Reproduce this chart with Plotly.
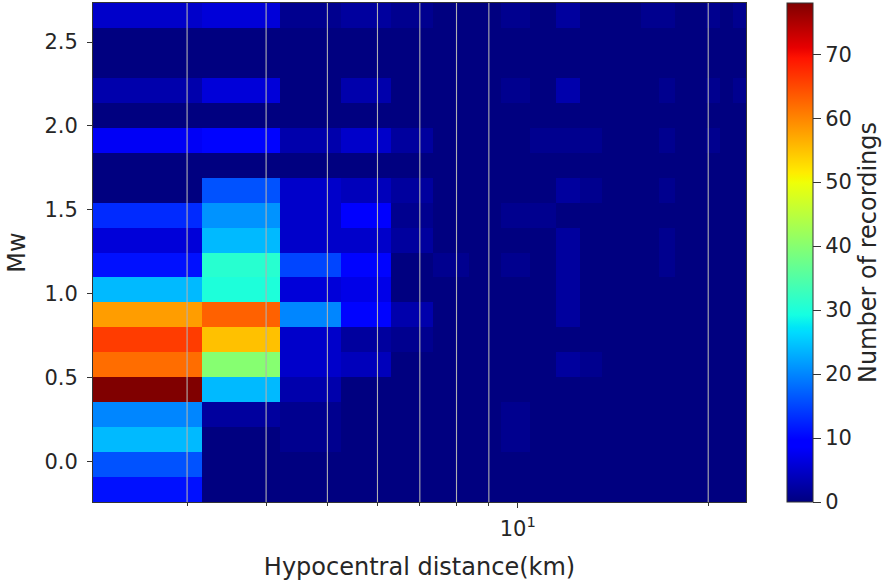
import numpy as np
import plotly.graph_objects as go

# ---- data -------------------------------------------------------------
# histogram bin edges (20 linear bins in each direction)
dist_min, dist_max = 2.13, 22.95
mw_min, mw_max = -0.241, 2.733
n_bins = 20

# counts per Mw row (bottom row first), 20 distance bins each
counts = [
    [11, 0, 0, 0, 0, 0, 0, 0, 0, 0, 0, 0, 0, 0, 0, 0, 0, 0, 0, 0],
    [16, 0, 0, 0, 0, 0, 0, 0, 0, 0, 0, 0, 0, 0, 0, 0, 0, 0, 0, 0],
    [24, 0, 1, 0, 0, 0, 0, 1, 0, 0, 0, 0, 0, 0, 0, 0, 0, 0, 0, 0],
    [20, 2, 1, 0, 0, 0, 0, 1, 0, 0, 0, 0, 0, 0, 0, 0, 0, 0, 0, 0],
    [78, 24, 3, 0, 0, 0, 0, 0, 0, 0, 0, 0, 0, 0, 0, 0, 0, 0, 0, 0],
    [62, 40, 5, 4, 0, 0, 0, 0, 0, 2, 1, 0, 0, 0, 0, 0, 0, 0, 0, 0],
    [66, 55, 5, 2, 1, 0, 0, 0, 0, 0, 0, 0, 0, 0, 0, 0, 0, 0, 0, 0],
    [58, 63, 20, 10, 3, 0, 0, 0, 0, 2, 0, 0, 0, 0, 0, 0, 0, 0, 0, 0],
    [24, 30, 6, 7, 0, 0, 0, 0, 0, 2, 0, 0, 0, 0, 0, 0, 0, 0, 0, 0],
    [11, 31, 15, 10, 0, 1, 0, 1, 0, 2, 0, 0, 0, 0, 1, 0, 0, 0, 0, 0],
    [6, 24, 5, 5, 2, 0, 0, 0, 0, 2, 0, 0, 0, 0, 1, 0, 0, 0, 0, 0],
    [13, 21, 5, 9, 1, 0, 0, 1, 1, 0, 0, 0, 0, 0, 0, 0, 0, 0, 0, 0],
    [0, 16, 5, 4, 2, 0, 0, 0, 0, 2, 1, 0, 0, 0, 1, 0, 0, 0, 0, 0],
    [0, 0, 0, 0, 0, 0, 0, 0, 0, 0, 0, 0, 0, 0, 0, 0, 0, 0, 0, 0],
    [8, 10, 3, 5, 2, 0, 0, 0, 1, 1, 1, 0, 0, 0, 1, 0, 0, 1, 0, 0],
    [0, 0, 0, 0, 0, 0, 0, 0, 0, 0, 0, 0, 0, 0, 0, 0, 0, 0, 0, 0],
    [3, 6, 0, 3, 0, 0, 0, 1, 0, 3, 0, 0, 0, 0, 1, 0, 0, 1, 0, 1],
    [0, 0, 0, 0, 0, 0, 0, 0, 0, 0, 0, 0, 0, 0, 0, 0, 0, 0, 0, 0],
    [0, 0, 0, 0, 0, 0, 0, 0, 0, 0, 0, 0, 0, 0, 0, 0, 0, 0, 0, 0],
    [5, 6, 1, 2, 1, 0, 0, 1, 0, 2, 0, 0, 0, 1, 1, 0, 0, 1, 0, 1],
]

y_ticks = [0.0, 0.5, 1.0, 1.5, 2.0, 2.5]
x_major_ticks = [10]
x_major_text = ["10<sup>1</sup>"]
x_minor_ticks = [3, 4, 5, 6, 7, 8, 9, 20]
cbar_ticks = [0, 10, 20, 30, 40, 50, 60, 70]

x_edges = np.linspace(dist_min, dist_max, n_bins + 1)
y_edges = np.linspace(mw_min, mw_max, n_bins + 1)
z = np.array(counts)

# ---- matplotlib "jet" colormap ---------------------------------------
red = [(0, 0), (0.35, 0), (0.66, 1), (0.89, 1), (1, 0.5)]
green = [(0, 0), (0.125, 0), (0.375, 1), (0.64, 1), (0.91, 0), (1, 0)]
blue = [(0, 0.5), (0.11, 1), (0.34, 1), (0.65, 0), (1, 0)]
stops = sorted({p for seg in (red, green, blue) for p, _ in seg})


def interp(seg, t):
    xs = [p for p, _ in seg]
    vs = [v for _, v in seg]
    return float(np.interp(t, xs, vs))


jet = [[t, "rgb(%d,%d,%d)" % (round(255 * interp(red, t)),
                               round(255 * interp(green, t)),
                               round(255 * interp(blue, t)))] for t in stops]

FONT = "DejaVu Sans"
TICK_SIZE = 21
LABEL_SIZE = 24
TXT = "#262626"
AX = "#333"

fig = go.Figure(go.Heatmap(
    x=x_edges, y=y_edges, z=z,
    colorscale=jet, zmin=0, zmax=int(z.max()),
    colorbar=dict(
        title=dict(text="Number of recordings", side="right",
                   font=dict(family=FONT, size=LABEL_SIZE, color=TXT)),
        thickness=26, len=1, lenmode="fraction", y=0.5, yanchor="middle",
        x=1.0628, xanchor="left", xpad=0, ypad=0,
        outlinewidth=1, outlinecolor=AX,
        tickvals=cbar_ticks, ticks="outside", ticklen=8, tickwidth=1,
        tickcolor=AX,
        tickfont=dict(family=FONT, size=TICK_SIZE, color=TXT),
    ),
    hoverinfo="skip",
))

shapes = [dict(type="line", xref="x", yref="paper", x0=v, x1=v, y0=0, y1=1,
               line=dict(color="#b0b0b0", width=1.1), layer="above")
          for v in x_minor_ticks]

fig.update_layout(
    width=891, height=584,
    margin=dict(l=93, r=145, t=3, b=82),
    paper_bgcolor="white", plot_bgcolor="white",
    font=dict(family=FONT, size=TICK_SIZE, color=TXT),
    shapes=shapes,
    xaxis=dict(
        type="log", range=[np.log10(dist_min), np.log10(dist_max)],
        tickmode="array", tickvals=x_major_ticks, ticktext=x_major_text,
        ticks="outside", ticklen=5, tickwidth=1, tickcolor=AX,
        ticklabelstandoff=3,
        minor=dict(tickmode="array", tickvals=x_minor_ticks, ticks="outside",
                   ticklen=3, tickwidth=1, tickcolor=AX, showgrid=False),
        showgrid=False, zeroline=False,
        showline=True, mirror=True, linecolor=AX, linewidth=1,
        title=dict(text="Hypocentral distance(km)", standoff=17,
                   font=dict(family=FONT, size=LABEL_SIZE, color=TXT)),
        tickfont=dict(family=FONT, size=TICK_SIZE, color=TXT),
    ),
    yaxis=dict(
        range=[mw_min, mw_max],
        tickmode="array", tickvals=y_ticks, tickformat=".1f",
        ticks="outside", ticklen=5, tickwidth=1, tickcolor=AX,
        ticklabelstandoff=5,
        showgrid=False, zeroline=False,
        showline=True, mirror=True, linecolor=AX, linewidth=1,
        title=dict(text="Mw", standoff=11,
                   font=dict(family=FONT, size=LABEL_SIZE, color=TXT)),
        tickfont=dict(family=FONT, size=TICK_SIZE, color=TXT),
    ),
)

fig.write_html("out.html",
               config={"displayModeBar": False},
               post_script="document.body.style.margin='0';")
